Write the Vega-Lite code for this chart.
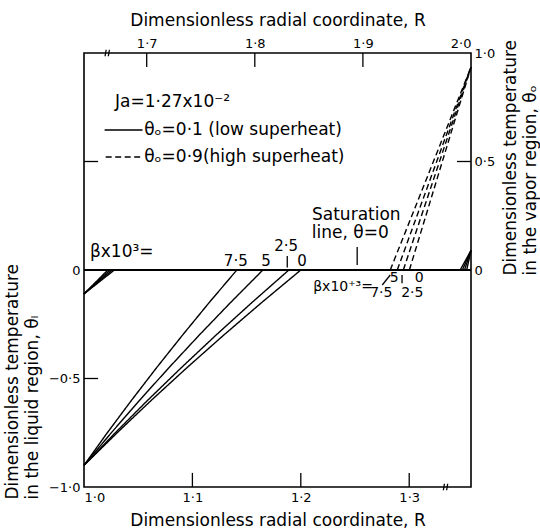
{
  "$schema": "https://vega.github.io/schema/vega-lite/v6.json",
  "width": 387,
  "height": 434,
  "autosize": {"type": "none"},
  "padding": {"left": 84, "top": 53, "right": 69, "bottom": 44},
  "background": "white",
  "config": {
    "view": {"stroke": "black", "strokeWidth": 1.6},
    "font": "DejaVu Sans",
    "axis": {
      "grid": false, "domain": false, "ticks": false,
      "labelColor": "black", "titleColor": "black",
      "labelFont": "DejaVu Sans", "titleFont": "DejaVu Sans",
      "labelFontSize": 13, "titleFontSize": 17, "titleFontWeight": "normal"
    },
    "text": {"font": "DejaVu Sans", "color": "black"}
  },
  "datasets": {
    "liqCurves": [
      {"curve": "lo7.5", "kind": "low", "R": 1.0, "theta": -0.9},
      {"curve": "lo7.5", "kind": "low", "R": 1.0215, "theta": -0.75},
      {"curve": "lo7.5", "kind": "low", "R": 1.0439, "theta": -0.6},
      {"curve": "lo7.5", "kind": "low", "R": 1.067, "theta": -0.45},
      {"curve": "lo7.5", "kind": "low", "R": 1.0909, "theta": -0.3},
      {"curve": "lo7.5", "kind": "low", "R": 1.1155, "theta": -0.15},
      {"curve": "lo7.5", "kind": "low", "R": 1.141, "theta": 0},
      {"curve": "lo5", "kind": "low", "R": 1.0, "theta": -0.9},
      {"curve": "lo5", "kind": "low", "R": 1.0252, "theta": -0.75},
      {"curve": "lo5", "kind": "low", "R": 1.0513, "theta": -0.6},
      {"curve": "lo5", "kind": "low", "R": 1.0784, "theta": -0.45},
      {"curve": "lo5", "kind": "low", "R": 1.1063, "theta": -0.3},
      {"curve": "lo5", "kind": "low", "R": 1.1352, "theta": -0.15},
      {"curve": "lo5", "kind": "low", "R": 1.165, "theta": 0},
      {"curve": "lo2.5", "kind": "low", "R": 1.0, "theta": -0.9},
      {"curve": "lo2.5", "kind": "low", "R": 1.0289, "theta": -0.75},
      {"curve": "lo2.5", "kind": "low", "R": 1.0588, "theta": -0.6},
      {"curve": "lo2.5", "kind": "low", "R": 1.0898, "theta": -0.45},
      {"curve": "lo2.5", "kind": "low", "R": 1.1218, "theta": -0.3},
      {"curve": "lo2.5", "kind": "low", "R": 1.1549, "theta": -0.15},
      {"curve": "lo2.5", "kind": "low", "R": 1.189, "theta": 0},
      {"curve": "lo0", "kind": "low", "R": 1.0, "theta": -0.9},
      {"curve": "lo0", "kind": "low", "R": 1.0306, "theta": -0.75},
      {"curve": "lo0", "kind": "low", "R": 1.0622, "theta": -0.6},
      {"curve": "lo0", "kind": "low", "R": 1.095, "theta": -0.45},
      {"curve": "lo0", "kind": "low", "R": 1.1289, "theta": -0.3},
      {"curve": "lo0", "kind": "low", "R": 1.1639, "theta": -0.15},
      {"curve": "lo0", "kind": "low", "R": 1.2, "theta": 0},
      {"curve": "hi7.5", "kind": "high-liquid", "R": 1.0, "theta": -0.11},
      {"curve": "hi7.5", "kind": "high-liquid", "R": 1.022, "theta": 0},
      {"curve": "hi5", "kind": "high-liquid", "R": 1.0, "theta": -0.11},
      {"curve": "hi5", "kind": "high-liquid", "R": 1.024, "theta": 0},
      {"curve": "hi2.5", "kind": "high-liquid", "R": 1.0, "theta": -0.11},
      {"curve": "hi2.5", "kind": "high-liquid", "R": 1.026, "theta": 0},
      {"curve": "hi0", "kind": "high-liquid", "R": 1.0, "theta": -0.11},
      {"curve": "hi0", "kind": "high-liquid", "R": 1.028, "theta": 0},
      {"curve": "legend-low", "kind": "low", "R": 1.019, "theta": 0.645},
      {"curve": "legend-low", "kind": "low", "R": 1.054, "theta": 0.645},
      {"curve": "legend-high", "kind": "high", "R": 1.02, "theta": 0.521},
      {"curve": "legend-high", "kind": "high", "R": 1.054, "theta": 0.521}
    ],
    "satLine": [{"R": 1.0, "R2": 1.357, "theta": 0, "theta2": 0}],
    "liqRules": [
      {"R": 1.1875, "R2": 1.1875, "theta": 0.012, "theta2": 0.065},
      {"R": 1.252, "R2": 1.252, "theta": 0.023, "theta2": 0.106},
      {"R": 1.3315, "R2": 1.3325, "theta": -1.015, "theta2": -0.985},
      {"R": 1.3345, "R2": 1.3355, "theta": -1.015, "theta2": -0.985},
      {"R": 1.1, "R2": 1.1, "theta": -1, "theta2": -0.935},
      {"R": 1.2, "R2": 1.2, "theta": -1, "theta2": -0.935},
      {"R": 1.3, "R2": 1.3, "theta": -1, "theta2": -0.935},
      {"R": 1.0, "R2": 1.013, "theta": -0.5, "theta2": -0.5},
      {"R": 1.0, "R2": 1.013, "theta": 0.5, "theta2": 0.5}
    ],
    "liqText": [
      {"R": 1.0286, "theta": 0.774, "label": "Ja=1·27x10⁻²"},
      {"R": 1.0555, "theta": 0.645, "label": "θₒ=0·1 (low superheat)"},
      {"R": 1.0555, "theta": 0.521, "label": "θₒ=0·9(high superheat)"},
      {"R": 1.0055, "theta": 0.083, "label": "βx10³="}
    ],
    "liqCenter": [
      {"R": 1.2512, "theta": 0.253, "label": "Saturation"},
      {"R": 1.2456, "theta": 0.17, "label": "line, θ=0"}
    ],
    "liqNums": [
      {"R": 1.14, "theta": 0.04, "label": "7·5"},
      {"R": 1.168, "theta": 0.04, "label": "5"},
      {"R": 1.1865, "theta": 0.11, "label": "2·5"},
      {"R": 1.201, "theta": 0.04, "label": "0"}
    ],
    "vapCurves": [
      {"curve": "hi7.5", "kind": "high", "R": 1.9253, "theta": 0},
      {"curve": "hi7.5", "kind": "high", "R": 2.0, "theta": 0.935},
      {"curve": "hi5", "kind": "high", "R": 1.9318, "theta": 0},
      {"curve": "hi5", "kind": "high", "R": 2.0, "theta": 0.935},
      {"curve": "hi2.5", "kind": "high", "R": 1.9374, "theta": 0},
      {"curve": "hi2.5", "kind": "high", "R": 2.0, "theta": 0.935},
      {"curve": "hi0", "kind": "high", "R": 1.943, "theta": 0},
      {"curve": "hi0", "kind": "high", "R": 2.0, "theta": 0.935},
      {"curve": "lo7.5", "kind": "low", "R": 1.99, "theta": 0},
      {"curve": "lo7.5", "kind": "low", "R": 2.0, "theta": 0.09},
      {"curve": "lo5", "kind": "low", "R": 1.992, "theta": 0},
      {"curve": "lo5", "kind": "low", "R": 2.0, "theta": 0.09},
      {"curve": "lo2.5", "kind": "low", "R": 1.994, "theta": 0},
      {"curve": "lo2.5", "kind": "low", "R": 2.0, "theta": 0.09},
      {"curve": "lo0", "kind": "low", "R": 1.996, "theta": 0},
      {"curve": "lo0", "kind": "low", "R": 2.0, "theta": 0.09}
    ],
    "vapRules": [
      {"R": 1.9179, "R2": 1.9253, "theta": -0.069, "theta2": -0.023},
      {"R": 1.9362, "R2": 1.9362, "theta": -0.061, "theta2": -0.023},
      {"R": 1.6615, "R2": 1.6625, "theta": 0.985, "theta2": 1.015},
      {"R": 1.6645, "R2": 1.6655, "theta": 0.985, "theta2": 1.015},
      {"R": 1.7, "R2": 1.7, "theta": 1, "theta2": 0.935},
      {"R": 1.8, "R2": 1.8, "theta": 1, "theta2": 0.935},
      {"R": 1.9, "R2": 1.9, "theta": 1, "theta2": 0.935},
      {"R": 2.0, "R2": 1.987, "theta": 0.5, "theta2": 0.5}
    ],
    "vapText": [
      {"R": 1.854, "theta": -0.078, "label": "βx10⁺³="}
    ],
    "vapNums": [
      {"R": 1.917, "theta": -0.108, "label": "7·5"},
      {"R": 1.9457, "theta": -0.108, "label": "2·5"},
      {"R": 1.929, "theta": -0.037, "label": "5"},
      {"R": 1.952, "theta": -0.037, "label": "0"}
    ]
  },
  "layer": [
    {
      "encoding": {
        "x": {
          "field": "R", "type": "quantitative",
          "scale": {"domain": [1.0, 1.357], "nice": false, "zero": false},
          "axis": {
            "orient": "bottom", "values": [1.0, 1.1, 1.2, 1.3], "format": ".1f",
            "labelExpr": "replace(datum.label, '.', '·')",
            "labelPadding": 4, "labelFlush": true,
            "title": "Dimensionless radial coordinate,  R", "titlePadding": 8
          }
        },
        "y": {
          "field": "theta", "type": "quantitative",
          "scale": {"domain": [-1, 1], "nice": false},
          "axis": {
            "orient": "left", "values": [-1, -0.5, 0, 0.5],
            "labelExpr": "datum.value > 0 ? '' : (datum.value == 0 ? '0' : replace(format(datum.value, '.1f'), '.', '·'))",
            "labelPadding": 4,
            "title": ["Dimensionless temperature", "in the liquid region,  θₗ"],
            "titleAngle": 270, "titleAlign": "left", "titleBaseline": "top",
            "titleX": -80, "titleY": 446, "titleLineHeight": 20
          }
        }
      },
      "layer": [
        {
          "data": {"name": "liqCurves"},
          "mark": {"type": "line", "color": "black", "strokeWidth": 1.4},
          "encoding": {
            "detail": {"field": "curve"},
            "strokeDash": {"field": "kind", "type": "nominal", "scale": {"domain": ["low", "high", "high-liquid"], "range": [[1, 0], [6, 3.5], [1, 0]]}, "legend": null}
          }
        },
        {
          "data": {"name": "satLine"},
          "mark": {"type": "rule", "color": "black", "strokeWidth": 2},
          "encoding": {"x2": {"field": "R2"}, "y2": {"field": "theta2"}}
        },
        {
          "data": {"name": "liqRules"},
          "mark": {"type": "rule", "color": "black", "strokeWidth": 1.3},
          "encoding": {"x2": {"field": "R2"}, "y2": {"field": "theta2"}}
        },
        {
          "data": {"name": "liqText"},
          "mark": {"type": "text", "align": "left", "baseline": "middle", "fontSize": 17},
          "encoding": {"text": {"field": "label"}}
        },
        {
          "data": {"name": "liqCenter"},
          "mark": {"type": "text", "align": "center", "baseline": "middle", "fontSize": 17},
          "encoding": {"text": {"field": "label"}}
        },
        {
          "data": {"name": "liqNums"},
          "mark": {"type": "text", "align": "center", "baseline": "middle", "fontSize": 15},
          "encoding": {"text": {"field": "label"}}
        }
      ]
    },
    {
      "encoding": {
        "x": {
          "field": "R", "type": "quantitative",
          "scale": {"domain": [1.642, 2.0], "nice": false, "zero": false},
          "axis": {
            "orient": "top", "values": [1.7, 1.8, 1.9, 2.0], "format": ".1f",
            "labelExpr": "replace(datum.label, '.', '·')",
            "labelPadding": 3,
            "title": "Dimensionless radial coordinate, R", "titlePadding": 8
          }
        },
        "y": {
          "field": "theta", "type": "quantitative",
          "scale": {"domain": [-1, 1], "nice": false},
          "axis": {
            "orient": "right", "values": [0, 0.5, 1],
            "labelExpr": "datum.value == 0 ? '0' : replace(format(datum.value, '.1f'), '.', '·')",
            "labelPadding": 3,
            "title": ["Dimensionless temperature", "in the vapor region,  θₒ"],
            "titleAngle": 270, "titleAlign": "left", "titleBaseline": "top",
            "titleX": 31, "titleY": 222, "titleLineHeight": 20
          }
        }
      },
      "layer": [
        {
          "data": {"name": "vapCurves"},
          "mark": {"type": "line", "color": "black", "strokeWidth": 1.4},
          "encoding": {
            "detail": {"field": "curve"},
            "strokeDash": {"field": "kind", "type": "nominal", "scale": {"domain": ["low", "high", "high-liquid"], "range": [[1, 0], [6, 3.5], [1, 0]]}, "legend": null}
          }
        },
        {
          "data": {"name": "vapRules"},
          "mark": {"type": "rule", "color": "black", "strokeWidth": 1.3},
          "encoding": {"x2": {"field": "R2"}, "y2": {"field": "theta2"}}
        },
        {
          "data": {"name": "vapText"},
          "mark": {"type": "text", "align": "left", "baseline": "middle", "fontSize": 14},
          "encoding": {"text": {"field": "label"}}
        },
        {
          "data": {"name": "vapNums"},
          "mark": {"type": "text", "align": "center", "baseline": "middle", "fontSize": 14},
          "encoding": {"text": {"field": "label"}}
        }
      ]
    }
  ],
  "resolve": {"scale": {"x": "independent", "y": "independent"}}
}
